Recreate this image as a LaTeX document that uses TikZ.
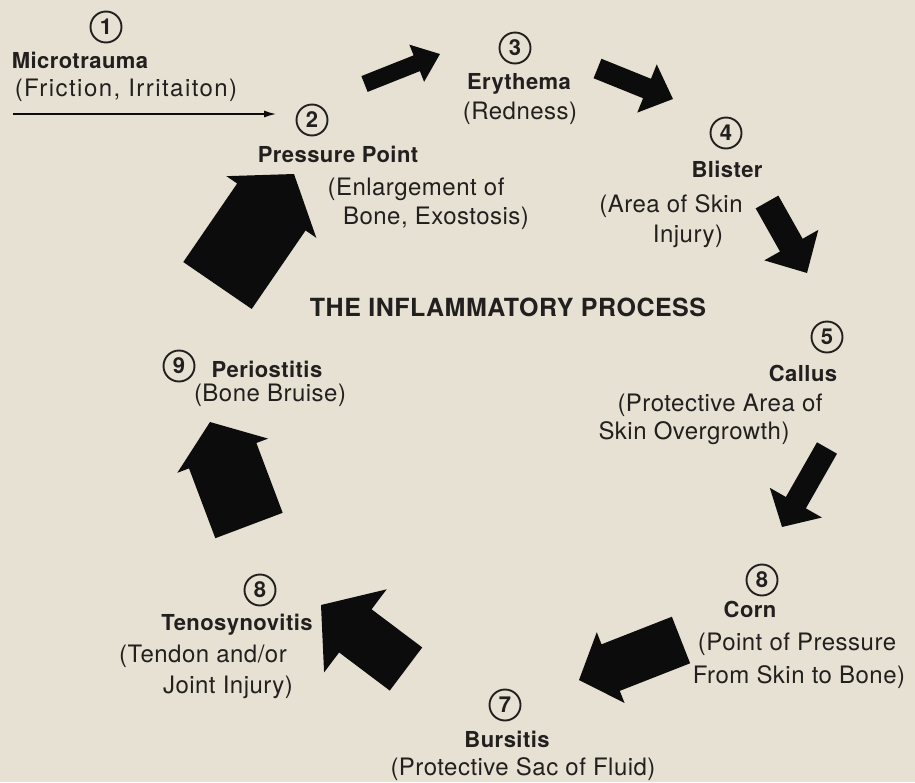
\documentclass[tikz,border=0pt]{standalone}
\usepackage{fontspec}
\usetikzlibrary{arrows.meta}
\newfontfamily\hv{TeX Gyre Heros}[LetterSpace=2]
\newfontfamily\hvw{TeX Gyre Heros}[LetterSpace=6]
\definecolor{paper}{RGB}{231,225,212}
\definecolor{txt}{RGB}{34,32,30}
\definecolor{ink}{RGB}{12,12,12}
\newcommand\blockarr[7]{%
  \pgfmathsetmacro\baAng{atan2(#2-#4,#3-#1)}%
  \pgfmathsetmacro\baLen{veclen(#3-#1,#4-#2)}%
  \pgfmathsetmacro\baHb{\baLen-#7}%
  \fill[ink,shift={(#1,#2)},rotate=\baAng]
    (0,-#5) -- (\baHb,-#5) -- (\baHb,-#6) -- (\baLen,0) -- (\baHb,#6) -- (\baHb,#5) -- (0,#5) -- cycle;}
\tikzset{
  lbl/.style={anchor=base, inner sep=0pt, text=txt, font=\hv\bfseries\fontsize{22}{24}\selectfont},
  sub/.style={anchor=base, inner sep=0pt, text=txt, font=\hv\fontsize{24}{26}\selectfont},
  ttl/.style={anchor=base, inner sep=0pt, text=txt, font=\hv\bfseries\fontsize{25}{28}\selectfont},
  num/.style={circle, draw=txt, line width=1.9pt, minimum size=31pt, inner sep=0pt, text=txt, font=\hv\bfseries\fontsize{22}{22}\selectfont},
  thinarrow/.style={draw=ink, line width=1.3pt, -{Latex[length=12pt,width=7pt]}}
}
\begin{document}
\begin{tikzpicture}[x=1pt,y=-1pt]
\fill[paper] (0,0) rectangle (915,782);
\useasboundingbox (0,0) rectangle (915,782);

% circled numbers
\node[num] (n1) at (106,27) {1};
\node[num] (n2) at (312,120) {2};
\node[num] (n3) at (515,48) {3};
\node[num] (n4) at (726,133) {4};
\node[num] (n5) at (827,337) {5};
\node[num] (n6) at (762,580) {8};
\node[num] (n7) at (505,705) {7};
\node[num] (n8) at (260,590) {8};
\node[num] (n9) at (179,366) {9};

% labels
\node[lbl] (l1) at (80,68) {Microtrauma};
\node[sub, font=\hvw\fontsize{24}{26}\selectfont] (s1) at (126,96) {(Friction, Irritaiton)};
\node[lbl] (l2) at (338,162) {Pressure Point};
\node[sub] (s2a) at (416,195) {(Enlargement of};
\node[sub] (s2b) at (436,224) {Bone, Exostosis)};
\node[lbl] (l3) at (519,89) {Erythema};
\node[sub] (s3) at (520,119) {(Redness)};
\node[lbl] (l4) at (727,177) {Blister};
\node[sub] (s4a) at (671,212) {(Area of Skin};
\node[sub] (s4b) at (688,242) {Injury)};
\node[ttl] (title) at (508,316) {THE INFLAMMATORY PROCESS};
\node[lbl] (l5) at (803,381) {Callus};
\node[sub] (s5a) at (720,411) {(Protective Area of};
\node[sub] (s5b) at (694,439) {Skin Overgrowth)};
\node[lbl] (l6) at (750,617) {Corn};
\node[sub] (s6a) at (797,650) {(Point of Pressure};
\node[sub] (s6b) at (799,683) {From Skin to Bone)};
\node[lbl] (l7) at (507,747) {Bursitis};
\node[sub] (s7) at (523,775) {(Protective Sac of Fluid)};
\node[lbl] (l8) at (237,630) {Tenosynovitis};
\node[sub] (s8a) at (203,662) {(Tendon and/or};
\node[sub] (s8b) at (228,693) {Joint Injury)};
\node[lbl] (l9) at (267,377) {Periostitis};
\node[sub] (s9) at (270,401) {(Bone Bruise)};

% thin arrow 1 -> 2
\coordinate (m0) at (13,114);
\coordinate (m1) at (276,114);
\draw[thinarrow] (m0) -- (m1);

% block arrows
\blockarr{364.5}{84}{440}{54}{8.5}{20}{25}
\blockarr{597.5}{68.5}{673}{99}{10.5}{26}{28}
\blockarr{767}{202}{807}{273}{13}{31}{32}
\blockarr{827}{448}{782}{527}{11.5}{30}{28}
\blockarr{681}{640}{579}{680}{25}{38}{34}
\blockarr{406}{669}{321}{605}{27}{52}{43}
\blockarr{249}{525.5}{210}{422}{36}{48.5}{36}
\blockarr{217.5}{285.5}{294}{174}{41.5}{54.5}{40}
\end{tikzpicture}
\end{document}
